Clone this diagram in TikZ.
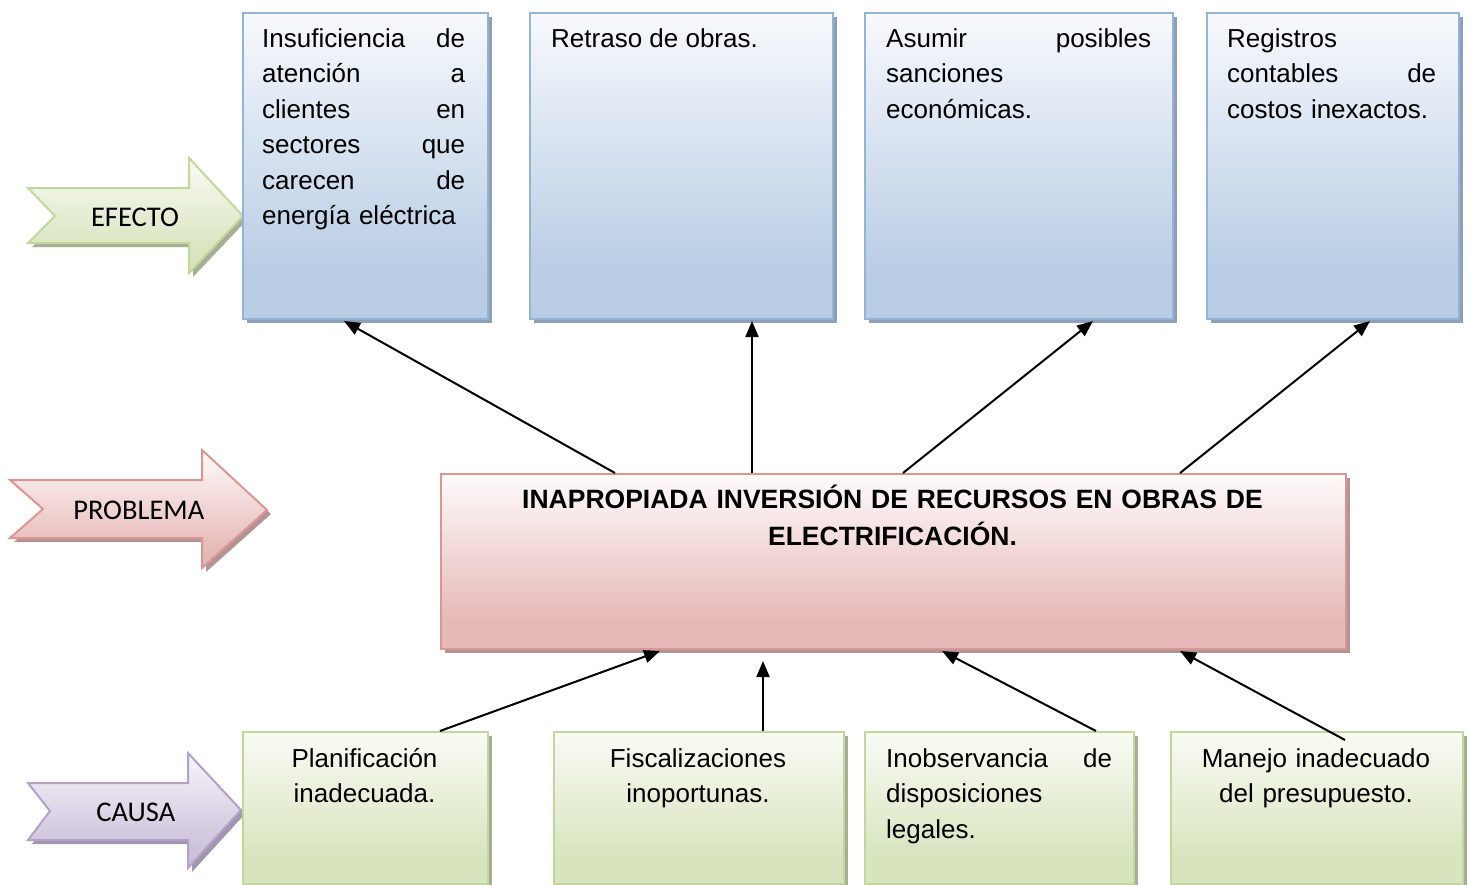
\documentclass[tikz,border=0pt]{standalone}
\usepackage{fontspec}
\setmainfont{Liberation Sans}
\newfontfamily\calib{Carlito}
\usetikzlibrary{arrows.meta,shadows}
\definecolor{blueBot}{HTML}{B9CDE5}
\definecolor{blueTop}{HTML}{F7F9FC}
\definecolor{blueLine}{HTML}{95B3D7}
\definecolor{blueShd}{HTML}{8FA0B6}
\definecolor{pinkBot}{HTML}{E6B9B8}
\definecolor{pinkTop}{HTML}{FEFAFA}
\definecolor{pinkLine}{HTML}{D99694}
\definecolor{pinkShd}{HTML}{B39494}
\definecolor{greenBot}{HTML}{D7E4BD}
\definecolor{greenTop}{HTML}{F9FBF5}
\definecolor{greenLine}{HTML}{C3D69B}
\definecolor{greenShd}{HTML}{A7AE98}
\definecolor{purpBot}{HTML}{CCC1DA}
\definecolor{purpTop}{HTML}{F7F5FA}
\definecolor{purpLine}{HTML}{B3A2C7}
\definecolor{purpShd}{HTML}{A096AD}
\pgfdeclareverticalshading{blueshade}{100bp}{color(0bp)=(blueBot); color(25bp)=(blueBot); color(33bp)=(blueBot); color(75bp)=(blueTop); color(100bp)=(blueTop)}
\pgfdeclareverticalshading{pinkshade}{100bp}{color(0bp)=(pinkBot); color(25bp)=(pinkBot); color(33bp)=(pinkBot); color(75bp)=(pinkTop); color(100bp)=(pinkTop)}
\pgfdeclareverticalshading{greenshade}{100bp}{color(0bp)=(greenBot); color(25bp)=(greenBot); color(33bp)=(greenBot); color(75bp)=(greenTop); color(100bp)=(greenTop)}
\pgfdeclareverticalshading{purpshade}{100bp}{color(0bp)=(purpBot); color(25bp)=(purpBot); color(33bp)=(purpBot); color(75bp)=(purpTop); color(100bp)=(purpTop)}
\begin{document}
\begin{tikzpicture}[x=1pt,y=-1pt,
  boxbase/.style={rectangle, inner sep=0pt, anchor=north west, line width=2pt},
  effbox/.style={boxbase, draw=blueLine, shade, shading=blueshade,
    drop shadow={shadow xshift=4pt, shadow yshift=-4pt, fill=blueShd, opacity=1}},
  probbox/.style={boxbase, draw=pinkLine, shade, shading=pinkshade,
    drop shadow={shadow xshift=4pt, shadow yshift=-4pt, fill=pinkShd, opacity=1}},
  causebox/.style={boxbase, draw=greenLine, shade, shading=greenshade,
    drop shadow={shadow xshift=4pt, shadow yshift=-4pt, fill=greenShd, opacity=1}},
  garrow/.style={line width=2pt, draw=greenLine, shade, shading=greenshade,
    drop shadow={shadow xshift=4pt, shadow yshift=-4pt, fill=greenShd, opacity=1}},
  parrow/.style={line width=2pt, draw=pinkLine, shade, shading=pinkshade,
    drop shadow={shadow xshift=4pt, shadow yshift=-4pt, fill=pinkShd, opacity=1}},
  varrow/.style={line width=2pt, draw=purpLine, shade, shading=purpshade,
    drop shadow={shadow xshift=4pt, shadow yshift=-4pt, fill=purpShd, opacity=1}},
  txt/.style={inner sep=0pt, font=\fontsize{26}{35.5}\selectfont, align=left},
  ctxt/.style={inner sep=0pt, font=\fontsize{26}{35.5}\selectfont, align=center, anchor=base},
  lbl/.style={inner sep=0pt, font=\calib\fontsize{28.5}{34}\selectfont},
  conn/.style={line width=2pt, -{Triangle[length=16pt,width=13pt]}}
]
\useasboundingbox (0,0) rectangle (1470,884);
\fill[white] (0,0) rectangle (1470,884);

% block arrows (labels)
\path[garrow] (28,188) -- (189,188) -- (189,158) -- (243,216) -- (189,273) -- (189,243) -- (28,243) -- (55,216) -- cycle;
\path[parrow] (10,480) -- (202,480) -- (202,450) -- (267,510) -- (202,568) -- (202,538) -- (10,538) -- (43,509) -- cycle;
\path[varrow] (28,783) -- (188,783) -- (188,753) -- (241,810) -- (188,868) -- (188,840) -- (28,840) -- (50,811) -- cycle;
\node[lbl] (lefecto) at (135,217.5) {EFECTO};
\node[lbl] (lproblema) at (138.8,510.5) {PROBLEMA};
\node[lbl] (lcausa) at (135.8,812.3) {CAUSA};

% effect boxes
\node[effbox, minimum width=245pt, minimum height=306pt] (e1) at (242,12) {};
\node[effbox, minimum width=303pt, minimum height=306pt] (e2) at (529,12) {};
\node[effbox, minimum width=308pt, minimum height=306pt] (e3) at (864,12) {};
\node[effbox, minimum width=252pt, minimum height=306pt] (e4) at (1206,12) {};

% problem box
\node[probbox, minimum width=905pt, minimum height=175pt] (prob) at (440,473) {};

% cause boxes
\node[causebox, minimum width=245pt, minimum height=152pt] (c1) at (242,731) {};
\node[causebox, minimum width=290pt, minimum height=152pt] (c2) at (553,731) {};
\node[causebox, minimum width=269pt, minimum height=152pt] (c3) at (864,731) {};
\node[causebox, minimum width=292pt, minimum height=152pt] (c4) at (1170,731) {};

% texts
\node[txt, text width=203pt, anchor=base west] (e1t) at (262,47) {Insuficiencia\hfill de\\ atención\hfill a\\ clientes\hfill en\\ sectores\hfill que\\ carecen\hfill de\\ energía eléctrica};
\node[txt, anchor=base west] (e2t) at (551,47.5) {Retraso de obras.};
\node[txt, text width=265pt, anchor=base west] (e3t) at (886,47) {Asumir\hfill posibles\\ sanciones\\ económicas.};
\node[txt, text width=209pt, anchor=base west] (e4t) at (1227,47) {Registros\\ contables\hfill de\\ costos inexactos.};

\node[inner sep=0pt, font=\fontsize{26.5}{37}\selectfont\bfseries, text width=880pt, align=center, anchor=base] (probt) at (892.5,508) {INAPROPIADA INVERSIÓN DE RECURSOS EN OBRAS DE\\ ELECTRIFICACIÓN.};

\node[ctxt, text width=235pt] (c1t) at (364.5,767) {Planificación\\ inadecuada.};
\node[ctxt, text width=280pt] (c2t) at (698,767) {Fiscalizaciones\\ inoportunas.};
\node[txt, text width=226pt, anchor=base west] (c3t) at (886,767) {Inobservancia\hfill de\\ disposiciones\\ legales.};
\node[ctxt, text width=282pt] (c4t) at (1316,767) {Manejo inadecuado\\ del presupuesto.};

% connectors problem -> effects
\draw[conn] ([xshift=175pt]prob.north west) -- ([xshift=102pt,yshift=-1pt]e1.south west);
\draw[conn] ([xshift=312pt]prob.north west) -- ([xshift=223pt,yshift=-1pt]e2.south west);
\draw[conn] ([xshift=463pt]prob.north west) -- ([xshift=229pt,yshift=-1pt]e3.south west);
\draw[conn] ([xshift=740pt]prob.north west) -- ([xshift=164pt,yshift=-1pt]e4.south west);

% connectors causes -> problem
\draw[conn] ([xshift=198pt]c1.north west) -- ([xshift=220pt,yshift=-1pt]prob.south west);
\draw[conn] ([xshift=210pt]c2.north west) -- ([xshift=323pt,yshift=-11pt]prob.south west);
\draw[conn] ([xshift=232pt]c3.north west) -- ([xshift=502pt,yshift=-1pt]prob.south west);
\draw[conn] ([xshift=175pt,yshift=-9pt]c4.north west) -- ([xshift=740pt,yshift=-1pt]prob.south west);
\end{tikzpicture}
\end{document}
